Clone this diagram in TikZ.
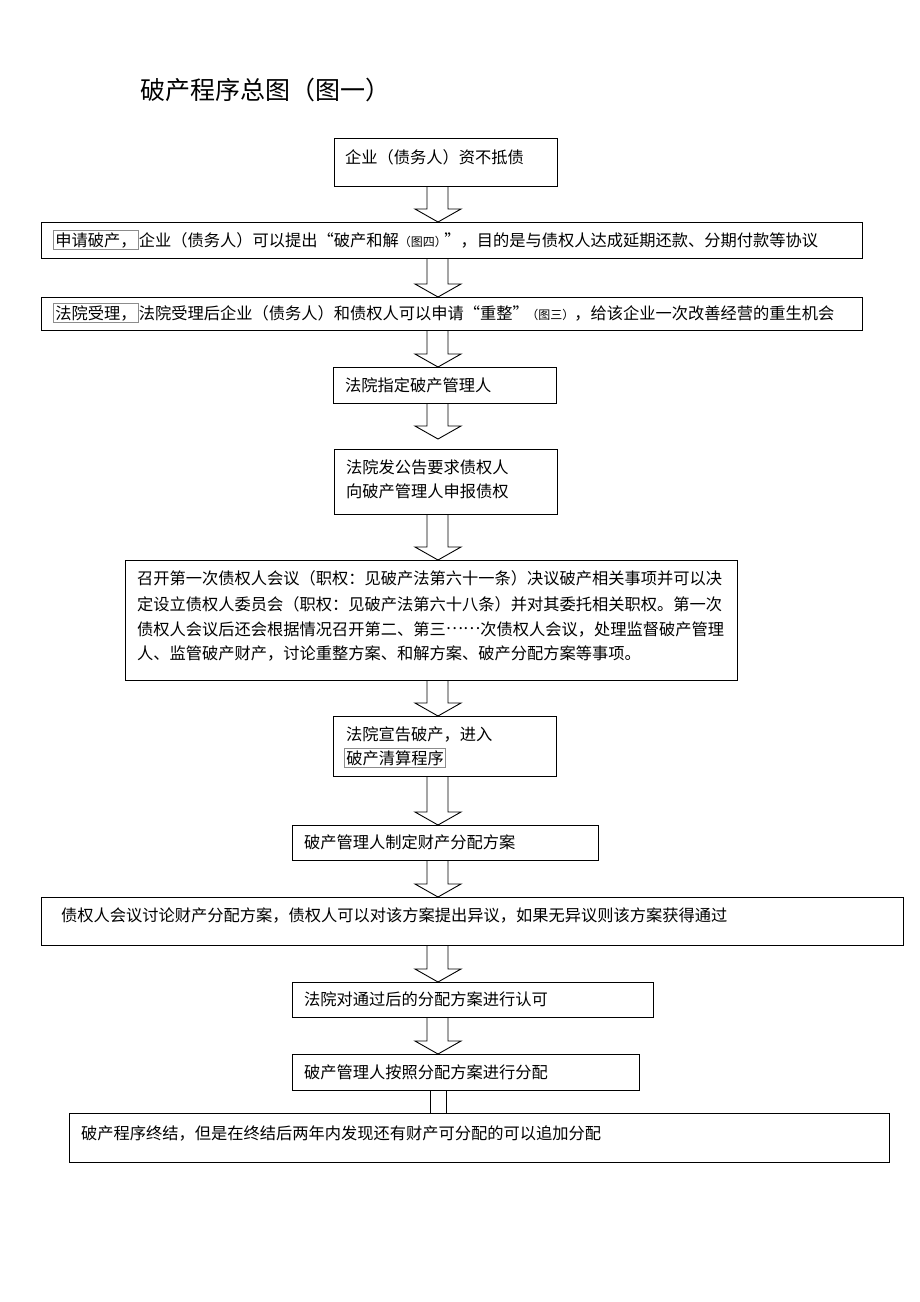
\documentclass[tikz,border=0pt]{standalone}
\usepackage{fontspec}
\setmainfont{Noto Sans CJK SC}
\usetikzlibrary{calc}
\newcommand\gbox[1]{{\setlength\fboxsep{1.5pt}\setlength\fboxrule{0.7pt}\fcolorbox{black!45}{white}{#1}}}
\newcommand\smalltxt[1]{{\fontsize{12}{12}\selectfont #1}}
\newcommand\fw[1]{{\addfontfeature{RawFeature=+fwid}#1}}
\newcommand\midell{\raisebox{0.32em}{……}}
\tikzset{
  box/.style={draw=black, line width=1pt, fill=none, inner sep=0pt, anchor=north west},
  txt/.style={anchor=base west, inner sep=0pt, font=\fontsize{16.25}{16.25}\selectfont},
  arr/.style={draw=black, line width=0.9pt, line join=miter},
}
% block arrow: #1 gap above target, #2 from, #3 to
\newcommand\barrow[3][0]{%
  \draw[arr] let \p1=(#2.south), \p2=(#3.north) in
    (427pt,\y1) -- (427pt,{\y2+#1pt+13pt}) -- (415pt,{\y2+#1pt+13pt}) -- (438pt,{\y2+#1pt})
    -- (461pt,{\y2+#1pt+13pt}) -- (448pt,{\y2+#1pt+13pt}) -- (448pt,\y1);}
\begin{document}
\begin{tikzpicture}[x=1pt,y=-1pt]
\useasboundingbox[fill=white] (0,0) rectangle (920,1302);
% title
\node[anchor=base west, inner sep=0pt, font=\fontsize{25}{25}\selectfont] (title) at (140,99) {破产程序总图（图一）};
% boxes
\node[box, minimum width=223pt, minimum height=48pt] (b1) at (334,138) {};
\node[box, minimum width=821pt, minimum height=36pt] (b2) at (41,222) {};
\node[box, minimum width=821pt, minimum height=33pt] (b3) at (41,297) {};
\node[box, minimum width=223pt, minimum height=36pt] (b4) at (333,367) {};
\node[box, minimum width=223pt, minimum height=65pt] (b5) at (334,449) {};
\node[box, minimum width=612pt, minimum height=120pt] (b6) at (125,560) {};
\node[box, minimum width=223pt, minimum height=60pt] (b7) at (333,716) {};
\node[box, minimum width=306pt, minimum height=35pt] (b8) at (292,825) {};
\node[box, minimum width=862pt, minimum height=48pt] (b9) at (41,897) {};
\node[box, minimum width=361pt, minimum height=35pt] (b10) at (292,982) {};
\node[box, minimum width=347pt, minimum height=36pt] (b11) at (292,1054) {};
\node[box, minimum width=820pt, minimum height=49pt] (b12) at (69,1113) {};
% texts
\node[txt] (t1) at (345,163) {企业（债务人）资不抵债};
\node[txt] (t2) at (53,246) {\gbox{申请破产，}企业（债务人）可以提出\fw{“}破产和解\smalltxt{（图四）}\hspace{-0.15em}\fw{”}，目的是与债权人达成延期还款、分期付款等协议};
\node[txt] (t3) at (53,319) {\gbox{法院受理，}法院受理后企业（债务人）和债权人可以申请\fw{“}重整\fw{”}\hspace{-0.15em}\smalltxt{（图三）}，给该企业一次改善经营的重生机会};
\node[txt] (t4) at (345,391) {法院指定破产管理人};
\node[txt] (t5a) at (346,473) {法院发公告要求债权人};
\node[txt] (t5b) at (346,497) {向破产管理人申报债权};
\node[txt] (t6a) at (137,584) {召开第一次债权人会议（职权：见破产法第六十一条）决议破产相关事项并可以决};
\node[txt] (t6b) at (137,610) {定设立债权人委员会（职权：见破产法第六十八条）并对其委托相关职权。第一次};
\node[txt] (t6c) at (137,635) {债权人会议后还会根据情况召开第二、第三\midell 次债权人会议，处理监督破产管理};
\node[txt] (t6d) at (137,659) {人、监管破产财产，讨论重整方案、和解方案、破产分配方案等事项。};
\node[txt] (t7a) at (346,740) {法院宣告破产，进入};
\node[txt] (t7b) at (344,764) {\gbox{破产清算程序}};
\node[txt] (t8) at (304,848) {破产管理人制定财产分配方案};
\node[txt] (t9) at (61,921) {债权人会议讨论财产分配方案，债权人可以对该方案提出异议，如果无异议则该方案获得通过};
\node[txt] (t10) at (304,1005) {法院对通过后的分配方案进行认可};
\node[txt] (t11) at (304,1078) {破产管理人按照分配方案进行分配};
\node[txt] (t12) at (81,1139) {破产程序终结，但是在终结后两年内发现还有财产可分配的可以追加分配};
% arrows
\barrow{b1}{b2}
\barrow{b2}{b3}
\barrow{b3}{b4}
\barrow[10]{b4}{b5}
\barrow{b5}{b6}
\barrow{b6}{b7}
\barrow{b7}{b8}
\barrow{b8}{b9}
\barrow{b9}{b10}
\barrow{b10}{b11}
\draw[arr] let \p1=(b11.south), \p2=(b12.north) in (430pt,\y1) -- (430pt,\y2) (446pt,\y1) -- (446pt,\y2);
\end{tikzpicture}
\end{document}
